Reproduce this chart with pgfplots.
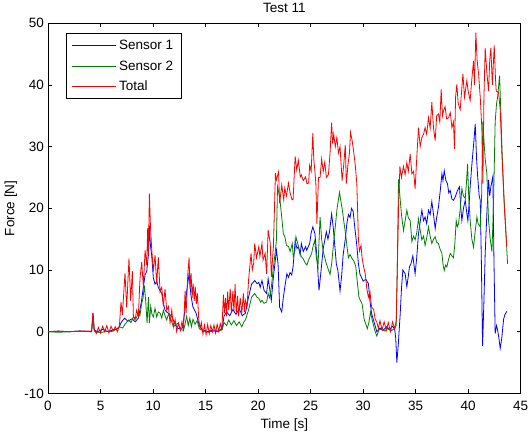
\documentclass[border=0pt]{standalone}
\usepackage{fontspec}
\setmainfont{Liberation Sans}
\usepackage{pgfplots}
\pgfplotsset{compat=1.18}
\definecolor{mblue}{RGB}{0,0,255}
\definecolor{mgreen}{RGB}{0,128,0}
\definecolor{mred}{RGB}{255,0,0}

\begin{document}
\begin{tikzpicture}[font=\fontsize{13.5bp}{16bp}\selectfont]
\path[use as bounding box] (-48bp,-41.6bp) rectangle (480bp,393.4bp);
\begin{axis}[
    name=ax,
    at={(0,0)}, anchor=south west,
    width=472.7bp, height=370.1bp, scale only axis,
    xmin=0, xmax=45, ymin=-10, ymax=50,
    xtick={0,5,...,45}, ytick={-10,0,...,50},
    tick align=inside, major tick length=4bp,
    tick style={black, line width=0.6bp},
    axis line style={black, line width=0.8bp},
    /pgf/number format/assume math mode=true,
    xticklabel style={inner sep=0pt, anchor=north, yshift=-7.4bp},
    yticklabel style={inner sep=0pt, anchor=east, xshift=-4bp},
    xlabel={Time [s]},
    xlabel style={at={(axis description cs:0.5,-0.0935)}, anchor=base, inner sep=0pt},
    ylabel={Force [N]},
    ylabel style={at={(axis description cs:-0.0709,0.5)}, anchor=base, inner sep=0pt},
    legend cell align=left,
    legend image code/.code={\draw[#1] (0bp,0bp) -- (44bp,0bp);},
    legend style={at={(axis description cs:0.038,0.973)}, anchor=north west,
        draw=black, line width=0.8bp, inner xsep=5.5bp, inner ysep=4bp,
        nodes={inner sep=2.5bp}, row sep=4.5bp},
    every axis plot/.append style={line width=0.8bp},
]
% Sensor 1
\addplot[mblue] coordinates {
(0,0) (1,0.1) (2,0) (3,0.1) (4.15,0) (4.28,3.0) (4.4,0.3) (4.7,0) (5.2,0.4) (5.7,0) (6.2,0.3) (6.7,0.5)
(7.0,1.6) (7.3,2.2) (7.6,1.7) (8.0,2.1) (8.3,1.6) (8.6,2.2) (8.75,3.5) (8.92,5.2) (9.1,7.5) (9.24,9.2)
(9.4,9.8) (9.56,12.4) (9.65,17.2) (9.75,14) (9.87,12.4) (10.03,8.7) (10.19,7.7) (10.35,8.2) (10.5,7.2)
(10.67,6.6) (10.83,6.2) (11.0,4.5) (11.14,3.5) (11.3,3.2) (11.46,3) (11.78,2.5) (12.1,1.2) (12.4,0.5)
(12.8,0.6) (13.0,3) (13.2,6.5) (13.43,9.4) (13.6,6) (13.8,4) (14.1,3) (14.4,1) (14.7,0.3) (15.2,0)
(15.7,0.3) (16.2,0.1) (16.6,0.6) (16.75,2.5) (17.0,3.2) (17.3,2.6) (17.6,3.6) (17.9,2.8) (18.2,3.7)
(18.5,2.6) (18.79,3) (19.09,5.6) (19.38,7.7) (19.68,8.3) (19.9,7.8) (20.07,8) (20.2,7.2) (20.37,8.3)
(20.57,6.7) (20.81,6.2) (20.96,8.6) (21.1,7) (21.26,5.1) (21.46,8.9) (21.6,11) (21.75,13.2) (21.9,11)
(22.05,4.0) (22.25,3.2) (22.4,5.5) (22.54,7.2) (22.74,9.4) (22.9,8.8) (23.04,9.6) (23.2,9.2) (23.33,10.5)
(23.53,14.8) (23.7,13.5) (23.83,13.8) (24.0,12.5) (24.12,14.3) (24.3,13) (24.52,13.8) (24.62,13.2)
(24.91,14.3) (25.05,16) (25.21,17) (25.41,15.9) (25.6,12.2) (25.8,6.7) (26.0,10) (26.2,13.5) (26.5,16.2)
(26.65,15) (26.8,16.2) (27.0,19.1) (27.15,17) (27.3,14) (27.45,11) (27.6,9.9) (27.8,6.6) (27.95,9)
(28.1,12.5) (28.3,15) (28.45,17.5) (28.6,19) (28.75,18.5) (28.9,20) (29.05,19.5) (29.2,17) (29.4,14)
(29.55,11) (29.7,9.3) (29.85,8.8) (30.0,8.2) (30.25,8.5) (30.5,7.8) (30.65,5) (30.8,3) (31.05,1.5)
(31.3,0) (31.6,0.6) (31.9,0.2) (32.2,0.8) (32.5,0.3) (32.8,0.9) (33.0,0.4) (33.1,-1) (33.21,-5)
(33.35,-2) (33.53,2.9) (33.65,7) (33.78,10) (34.0,9.4) (34.16,7.3) (34.3,9) (34.41,10.5) (34.55,11)
(34.73,12.3) (34.95,9.4) (35.1,12) (35.27,15.9) (35.45,18) (35.59,19.7) (35.75,18) (35.9,18.6)
(36.05,17.5) (36.22,19.7) (36.38,19) (36.54,21.1) (36.7,19) (36.86,16.7) (37.0,18.5) (37.17,20.2)
(37.35,23) (37.5,25.6) (37.6,24.5) (37.72,26.1) (37.88,24.5) (38.03,24) (38.15,22.5) (38.29,22.9)
(38.45,21.5) (38.6,21.3) (38.8,22) (38.98,22.9) (39.17,23.5) (39.3,20) (39.4,18) (39.55,20) (39.72,21.3)
(39.85,19.5) (39.97,18) (40.1,21) (40.19,23.5) (40.3,26) (40.44,28.9) (40.55,31) (40.67,33.7) (40.8,28)
(40.9,25.2) (41.05,22) (41.15,21.3) (41.25,12) (41.37,-2.3) (41.5,5) (41.62,12.7) (41.8,20) (41.94,24.6)
(42.05,22) (42.16,23.5) (42.35,25.2) (42.45,12) (42.57,-0.3) (42.7,1) (42.8,0.3) (42.92,-1) (43.05,-2.7)
(43.2,-1) (43.37,2) (43.5,2.8) (43.68,3.3)
};
\addlegendentry{Sensor 1}
% Sensor 2
\addplot[mgreen] coordinates {
(0,0) (1,-0.1) (2,0) (3,0.1) (4.15,0) (4.28,2.5) (4.4,0.1) (5,-0.2) (5.5,0.1) (6,0) (6.4,0.3) (6.8,0.8)
(7.1,0.6) (7.33,1.2) (7.65,1.9) (7.9,1.5) (8.13,2.4) (8.4,2.2) (8.6,3) (8.75,2.6) (8.92,4.6) (9.05,5.5)
(9.17,7.5) (9.3,5) (9.43,1.4) (9.56,5.6) (9.65,1.4) (9.78,4.1) (9.9,2.8) (10.03,2.4) (10.19,3.8)
(10.35,2.4) (10.5,3.2) (10.67,3) (10.83,2.2) (10.98,3.5) (11.14,2.6) (11.3,1.9) (11.46,2.8) (11.62,2.4)
(11.8,1.5) (11.94,0.8) (12.2,1.2) (12.41,1.4) (12.6,0.4) (12.9,0.2) (13.05,1.2) (13.2,2.5) (13.35,1)
(13.5,2.2) (13.65,0.8) (13.8,2) (14.0,1.2) (14.2,1.8) (14.4,0.5) (14.7,0.2) (15.2,-0.1) (15.7,0.1)
(16.2,0) (16.6,0.4) (16.75,1.5) (17.0,1.0) (17.2,1.9) (17.45,1.1) (17.7,1.8) (17.95,1) (18.2,1.6)
(18.45,0.8) (18.65,1.6) (18.79,1.9) (19.09,3.5) (19.38,5.6) (19.68,6.2) (19.9,5.6) (20.07,5.4)
(20.25,4.8) (20.37,5.1) (20.57,4.6) (20.81,4.8) (20.96,6.2) (21.1,5.5) (21.26,7.2) (21.46,10.5)
(21.65,13.2) (21.75,15) (21.85,23.5) (22.05,21.9) (22.25,18.6) (22.4,15.9) (22.55,15.4) (22.7,14)
(22.9,13.8) (23.05,13) (23.25,14.3) (23.35,12.2) (23.5,13) (23.6,15.4) (23.85,13.8) (24.0,12.8)
(24.1,12.2) (24.3,11.8) (24.5,11.1) (24.65,10.8) (24.8,11.6) (25.1,12.7) (25.25,14) (25.4,14.8)
(25.55,12) (25.7,10.5) (25.9,18.6) (26.05,15) (26.2,13) (26.35,12) (26.5,11) (26.7,10) (26.85,9.3)
(27.0,11) (27.2,14.6) (27.35,17) (27.5,19.7) (27.75,22.6) (27.9,21) (28.0,20) (28.15,18) (28.3,16.2)
(28.45,14) (28.6,12) (28.75,12.5) (28.9,12) (29.1,11.5) (29.3,10.6) (29.45,8) (29.6,5.6) (29.75,5)
(29.9,4.5) (30.1,2) (30.4,0.5) (30.55,1.5) (30.7,3.2) (30.85,2) (31.0,1) (31.15,0) (31.3,-0.7)
(31.5,0.3) (31.8,0.5) (32.1,0.1) (32.4,0.6) (32.7,0.2) (33.0,0.5) (33.15,1) (33.25,10) (33.37,24.7)
(33.5,22) (33.65,19) (33.84,16.4) (34.0,18) (34.16,19.7) (34.3,18.5) (34.48,18) (34.64,14.6) (34.8,15.5)
(34.95,14.9) (35.1,16) (35.27,18.3) (35.43,16.5) (35.59,14.9) (35.75,15.5) (35.9,14) (36.05,15.2)
(36.22,17) (36.38,15.5) (36.54,14.3) (36.7,15) (36.86,15.4) (37.0,14.5) (37.17,14.3) (37.3,13.5)
(37.5,12.7) (37.6,11) (37.72,9.9) (37.85,10.8) (37.97,10.5) (38.1,11.5) (38.29,12.7) (38.45,12.3)
(38.6,12) (38.72,14) (38.86,18) (38.97,17) (39.08,17.5) (39.25,20) (39.4,23.2) (39.55,22) (39.72,21.6)
(39.83,24) (39.94,27.2) (40.05,22) (40.19,18) (40.35,15) (40.51,13.7) (40.65,16) (40.83,18.6)
(40.95,17.5) (41.15,17) (41.28,22) (41.4,34) (41.5,31) (41.62,28) (41.78,25.6) (41.94,18) (42.1,15)
(42.26,13) (42.4,20) (42.57,34) (42.7,37) (42.8,38) (42.99,41.5) (43.1,36) (43.21,30) (43.4,22)
(43.53,18) (43.75,11)
};
\addlegendentry{Sensor 2}
% Total
\addplot[mred] coordinates {
(0,0) (1,0.1) (2,0) (3,0.1) (4.15,0.1) (4.28,3.1) (4.4,0.3) (4.6,-0.3) (4.8,0.7) (5.0,-0.2) (5.2,0.9)
(5.4,0) (5.6,1.0) (5.8,-0.2) (6.0,0.9) (6.2,0.1) (6.4,0.8) (6.6,0) (6.8,1.0) (6.95,4.8) (7.08,2.7)
(7.33,9.5) (7.49,3.9) (7.71,11.9) (7.87,5.0) (8.03,9.8) (8.13,2.4) (8.29,1.9) (8.44,3.5) (8.6,2.5)
(8.76,8.7) (8.92,11.3) (9.08,7.2) (9.24,13.2) (9.4,10.8) (9.49,16.8) (9.56,12.4) (9.65,22.4) (9.75,17.3)
(9.87,13.5) (10.03,9.8) (10.19,12.4) (10.35,7.7) (10.5,12.1) (10.67,6.5) (10.83,7.2) (10.98,4.1)
(11.14,6.9) (11.3,3.5) (11.46,4.1) (11.62,1.4) (11.78,3.5) (11.94,0.8) (12.1,2) (12.25,0) (12.41,1.4)
(12.6,0.2) (12.75,1.6) (12.9,0.4) (13.05,6.6) (13.15,3) (13.3,9) (13.43,12) (13.52,7) (13.62,9.5)
(13.72,5.5) (13.82,7.8) (13.92,5) (14.02,7.3) (14.12,4.5) (14.22,6.2) (14.35,2) (14.48,0.5) (14.6,1.5)
(14.75,-0.4) (14.9,1.1) (15.05,-0.5) (15.2,1.2) (15.35,-0.3) (15.5,1) (15.65,0) (15.8,1.1) (15.95,-0.2)
(16.1,1.2) (16.25,0.1) (16.4,1.3) (16.55,0.3) (16.7,6) (16.8,3) (16.9,5.5) (17.0,2.5) (17.1,6.5)
(17.2,3.5) (17.35,7) (17.45,3) (17.6,6.6) (17.7,3.3) (17.81,7.7) (17.92,3) (18.05,5.8) (18.15,2.5)
(18.3,5.5) (18.45,3) (18.6,6.2) (18.7,3.2) (18.79,5.1) (18.95,4) (19.09,8.3) (19.33,12.7) (19.45,10)
(19.58,11.1) (19.68,14.3) (19.85,12) (20.07,13.8) (20.17,12.2) (20.37,14.3) (20.47,11.6) (20.67,12.7)
(20.81,9.4) (20.96,16.5) (21.16,14.3) (21.26,8.9) (21.46,13.8) (21.65,25.7) (21.75,24.6) (21.95,25.9)
(22.05,20.8) (22.25,23.8) (22.44,21.4) (22.54,23.3) (22.7,22) (22.89,24.1) (23.05,22.5) (23.23,21.4)
(23.33,21.4) (23.53,28.4) (23.68,26.2) (23.83,27.8) (24.02,25.1) (24.12,25.4) (24.3,24.5) (24.52,25.1)
(24.65,24) (24.81,24.1) (24.91,27) (25.05,26) (25.21,32.2) (25.3,28) (25.41,26) (25.5,24) (25.6,17.5)
(25.75,25) (25.9,25) (26.05,28) (26.2,26) (26.35,27.5) (26.5,25) (26.7,25.5) (26.85,29) (27.0,33.9)
(27.1,30.5) (27.2,32) (27.35,30) (27.5,31.5) (27.65,29) (27.8,30) (28.0,24.5) (28.15,27) (28.3,30.3)
(28.4,24) (28.55,27) (28.7,29) (28.8,32.3) (28.95,31) (29.1,29.2) (29.25,27) (29.4,24) (29.55,15)
(29.65,13.1) (29.8,14) (29.9,12) (30.05,10.5) (30.2,9.4) (30.35,7) (30.5,5.6) (30.65,6.5) (30.8,4)
(31.0,3.6) (31.15,2) (31.3,1.6) (31.45,0.5) (31.6,1.8) (31.8,0.3) (32.0,1.6) (32.2,0.2) (32.4,1.5)
(32.6,0) (32.8,1.6) (33.0,0.5) (33.15,1.8) (33.25,10) (33.37,20) (33.5,26.8) (33.65,25) (33.84,26.8)
(34.0,25.5) (34.16,27.4) (34.3,26) (34.48,28.8) (34.64,25.6) (34.8,26) (34.95,23.2) (35.1,28) (35.27,33.1)
(35.43,30) (35.59,31.5) (35.75,32) (35.9,33.1) (36.05,32) (36.22,34.7) (36.38,33) (36.54,37.2) (36.7,33)
(36.86,31) (37.0,35) (37.17,35.3) (37.3,34) (37.43,39.3) (37.55,35) (37.65,35.8) (37.8,36.5) (37.95,34.5)
(38.13,34.7) (38.3,35.5) (38.45,33.1) (38.6,34) (38.7,29.6) (38.8,38) (38.92,40.1) (39.05,37) (39.24,36)
(39.35,38.5) (39.5,41.8) (39.65,38) (39.87,40.7) (40.0,39) (40.19,37.5) (40.35,41) (40.51,43.9) (40.6,40)
(40.73,48.5) (40.85,44) (40.99,41.8) (41.15,38) (41.3,33) (41.4,24) (41.5,38) (41.62,46) (41.78,42)
(41.94,39) (42.05,44) (42.16,46) (42.3,40) (42.48,46.4) (42.6,41) (42.67,39) (42.89,38.8) (43.05,36)
(43.21,28.8) (43.45,20) (43.68,13.7)
};
\addlegendentry{Total}
\end{axis}
\node[anchor=base, inner sep=0pt] at ([yshift=10.6bp]ax.north) {Test 11};
\end{tikzpicture}
\end{document}
